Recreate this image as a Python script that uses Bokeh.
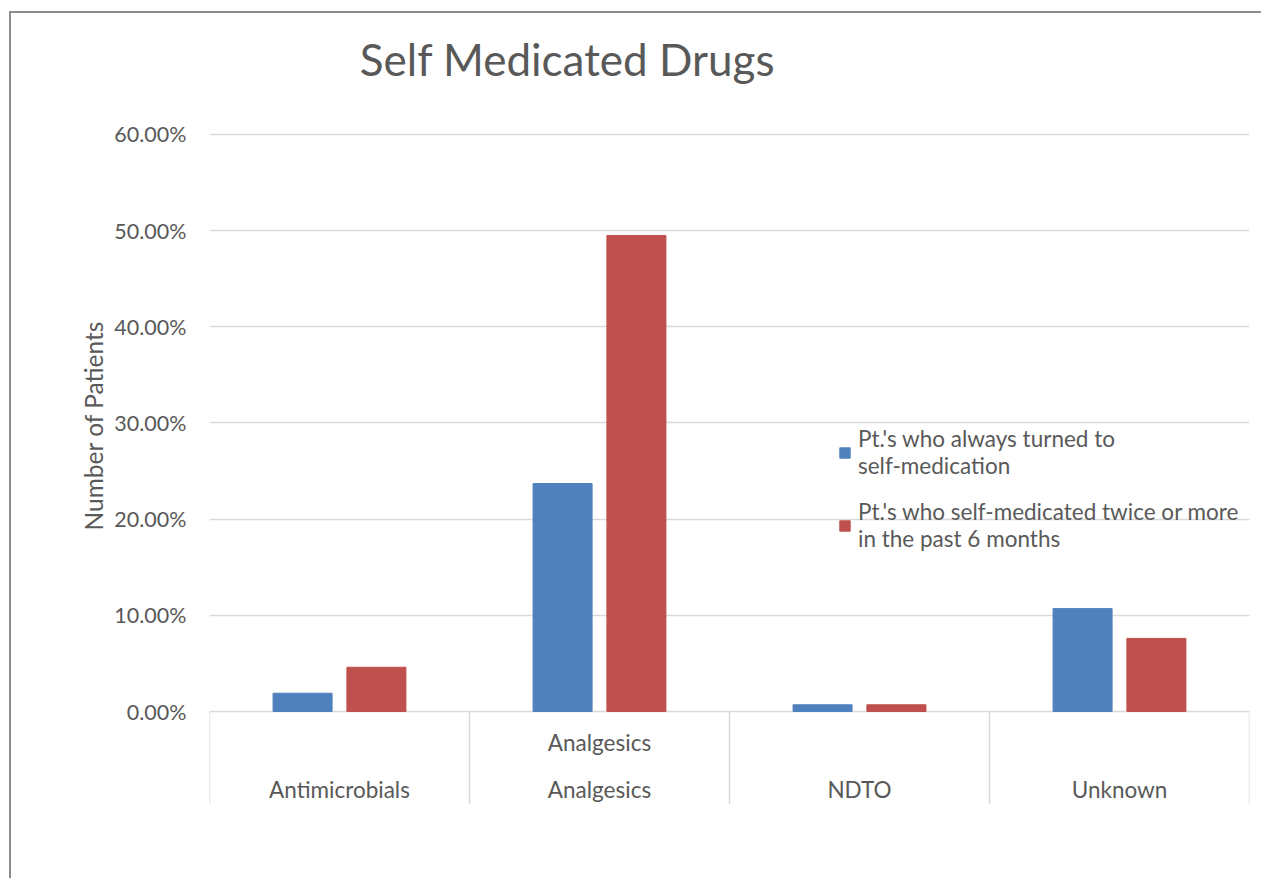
from bokeh.plotting import figure
from bokeh.models import (Range1d, FixedTicker, NumeralTickFormatter, Legend,
                          LegendItem, Title, ColumnDataSource)
from bokeh.core.properties import value
from bokeh.embed import file_html
from bokeh.resources import INLINE

# ---- data ----
title_text = "Self Medicated Drugs"
categories = ["Antimicrobials", "Analgesics", "NDTO", "Unknown"]
group_labels = ["", "Analgesics", "", ""]
always_self = [0.019, 0.237, 0.007, 0.107]
twice_or_more = [0.046, 0.495, 0.007, 0.076]
series_names = ["Pt.'s who always turned to\nself-medication",
                "Pt.'s who self-medicated twice or more\nin the past 6 months"]
y_ticks = [0.0, 0.1, 0.2, 0.3, 0.4, 0.5, 0.6]

FONT = "Lato"
TXT = "#595959"
BLUE = "#4F81BD"
RED = "#C0504D"
GRID = "#D9D9D9"

n = len(categories)
centers = [i + 0.5 for i in range(n)]
off = 0.142
bw = 0.227
y_bottom = -0.0967
y_top = 0.7258

src = ColumnDataSource(dict(
    xb=[c - off for c in centers], xr=[c + off for c in centers],
    a=always_self, t=twice_or_more))

p = figure(width=1252, height=867, output_backend="svg", toolbar_location=None,
           x_range=Range1d(0, n), y_range=Range1d(y_bottom, y_top),
           min_border_left=198, min_border_right=14, min_border_top=0,
           min_border_bottom=76)
p.margin = (11, 0, 0, 9)
p.styles = {"border-left": "2px solid #8C8C8C", "border-top": "2px solid #8C8C8C"}
p.outline_line_color = None
p.background_fill_color = "white"
p.border_fill_color = "white"

rb = p.vbar(x="xb", top="a", width=bw, bottom=0, source=src, color=BLUE)
rr = p.vbar(x="xr", top="t", width=bw, bottom=0, source=src, color=RED)

# category axis area (separators + labels)
seps = list(range(n + 1))
p.segment(x0=seps, y0=[0] * len(seps), x1=seps, y1=[y_bottom] * len(seps),
          line_color=GRID, line_width=1.5)
p.text(x=centers, y=[-0.0811] * n, text=categories, text_align="center",
       text_baseline="middle", text_font=value(FONT), text_font_size="22.5px",
       text_color=TXT)
p.text(x=centers, y=[-0.0322] * n, text=group_labels, text_align="center",
       text_baseline="middle", text_font=value(FONT), text_font_size="22.5px",
       text_color=TXT)

# chart title
p.text(x=[0.578], y=[0.678], text=[title_text], text_align="left",
       text_baseline="alphabetic", text_font=value(FONT),
       text_font_size="44px", text_color=TXT)

# axes
p.xaxis.visible = False
p.xgrid.visible = False
p.yaxis.ticker = FixedTicker(ticks=y_ticks)
p.ygrid.ticker = FixedTicker(ticks=y_ticks)
p.ygrid.grid_line_color = GRID
p.ygrid.grid_line_width = 1.5
p.yaxis.formatter = NumeralTickFormatter(format="0.00%")
p.yaxis.axis_line_color = None
p.yaxis.major_tick_line_color = None
p.yaxis.minor_tick_line_color = None
p.yaxis.major_tick_out = 0
p.yaxis.major_label_standoff = 23
p.yaxis.major_label_text_font = FONT
p.yaxis.major_label_text_font_size = "21.5px"
p.yaxis.major_label_text_color = TXT

ylab = Title(text="Number of Patients", align="left", offset=274, standoff=7,
             text_font=FONT, text_font_size="24.5px", text_color=TXT,
             text_font_style="normal")
p.add_layout(ylab, "left")

legend = Legend(items=[LegendItem(label=series_names[0], renderers=[rb]),
                       LegendItem(label=series_names[1], renderers=[rr])],
                location=(629, 252), padding=0, margin=0, spacing=19,
                glyph_width=13, glyph_height=13, label_standoff=7,
                label_text_font=FONT, label_text_font_size="22.5px",
                label_text_color=TXT, label_text_line_height=1.25,
                border_line_color=None, background_fill_alpha=0)
p.add_layout(legend, "center")

open("out.html", "w").write(file_html(p, INLINE))
